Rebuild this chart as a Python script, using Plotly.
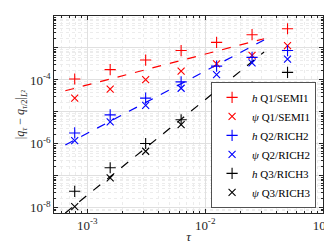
import plotly.graph_objects as go

tau = [0.00078125, 0.0015625, 0.003125, 0.00625, 0.0125, 0.025, 0.05]
h_q1 = [1.07e-4, 2.1e-4, 4.2e-4, 8.3e-4, 1.5e-3, 2.6e-3, 4.0e-3]
psi_q1 = [2.7e-5, 5.2e-5, 1.03e-4, 1.9e-4, 3.2e-4, 5.9e-4, 1.18e-3]
h_q2 = [2.2e-6, 8.1e-6, 2.7e-5, 8.7e-5, 2.7e-4, 5.1e-4, 8.3e-4]
psi_q2 = [1.26e-6, 4.9e-6, 1.6e-5, 5.5e-5, 1.48e-4, 3.4e-4, 4.5e-4]
h_q3 = [3.3e-8, 1.8e-7, 1.03e-6, 5.7e-6, 2.15e-5, 6.0e-5, 1.73e-4]
psi_q3 = [1.1e-8, 8.7e-8, 5.9e-7, 4.0e-6, 1.6e-5, 5.2e-5, 6.0e-5]

ref_tau = [6.5e-4, 3.16e-2]
ref_q1 = [4.6e-5, 1.95e-3]
ref_q2 = [9.3e-7, 1.78e-3]
ref_q3 = [6.9e-9, 7.5e-4]

FONT = "Liberation Serif"
fig = go.Figure()

for ry, col in [(ref_q1, "#ff0000"), (ref_q2, "#0000ff"), (ref_q3, "#000000")]:
    fig.add_trace(go.Scatter(x=ref_tau, y=ry, mode="lines", showlegend=False,
                             line=dict(color=col, width=1.2, dash="dash")))

series = [
    ("<i>h</i> Q1/SEMI1", h_q1, "#ff0000", "cross-thin"),
    ("<i>ψ</i> Q1/SEMI1", psi_q1, "#ff0000", "x-thin"),
    ("<i>h</i> Q2/RICH2", h_q2, "#0000ff", "cross-thin"),
    ("<i>ψ</i> Q2/RICH2", psi_q2, "#0000ff", "x-thin"),
    ("<i>h</i> Q3/RICH3", h_q3, "#000000", "cross-thin"),
    ("<i>ψ</i> Q3/RICH3", psi_q3, "#000000", "x-thin"),
]
for name, vals, col, sym in series:
    fig.add_trace(go.Scatter(x=tau, y=vals, mode="markers", name=name,
                             marker=dict(symbol=sym, size=8 if sym == "cross-thin" else 7,
                                         line=dict(color=col, width=1.1), color=col)))

yt = [1e-8, 1e-7, 1e-6, 1e-5, 1e-4, 1e-3, 1e-2]
ytxt = ["10<sup>-8</sup>", "", "10<sup>-6</sup>", "", "10<sup>-4</sup>", "", "10<sup>-2</sup>"]
xt = [1e-3, 1e-2, 1e-1]
xtxt = ["10<sup>-3</sup>", "10<sup>-2</sup>", "10<sup>-1</sup>"]

axcommon = dict(showline=True, linecolor="#262626", linewidth=0.8, mirror="allticks",
                ticks="inside", ticklen=4, tickcolor="#262626",
                showgrid=True, gridcolor="#e0e0e0", gridwidth=0.6, zeroline=False,
                tickfont=dict(family=FONT, size=13, color="#262626"))

fig.update_xaxes(type="log", range=[-3.283, -1], tickvals=xt, ticktext=xtxt,
                 minor=dict(dtick="D1", ticks="inside", ticklen=2, tickcolor="#262626",
                            showgrid=True, gridcolor="#ececec", griddash="dot", gridwidth=0.6),
                 title=dict(text="<i>τ</i>", font=dict(family=FONT, size=13, color="#262626"), standoff=0),
                 **axcommon)
fig.update_yaxes(type="log", range=[-8.16, -2], tickvals=yt, ticktext=ytxt,
                 minor=dict(dtick="D1", ticks="inside", ticklen=2, tickcolor="#262626",
                            showgrid=True, gridcolor="#ececec", griddash="dot", gridwidth=0.6),
                 title=dict(text="|<i>q</i><sub><i>τ</i></sub> − <i>q</i><sub><i>τ</i>/2</sub>|<sub><i>L</i>²</sub>",
                            font=dict(family=FONT, size=12, color="#262626"), standoff=2),
                 **axcommon)

fig.update_layout(width=332, height=243, margin=dict(l=46, r=12, t=7, b=38),
                  plot_bgcolor="white", paper_bgcolor="white",
                  font=dict(family=FONT, size=11, color="#000000"),
                  legend=dict(x=0.975, y=0.025, xanchor="right", yanchor="bottom",
                              bgcolor="white", bordercolor="#262626", borderwidth=0.8,
                              font=dict(family=FONT, size=11), itemwidth=30,
                              tracegroupgap=0))

fig.write_html("out.html")
